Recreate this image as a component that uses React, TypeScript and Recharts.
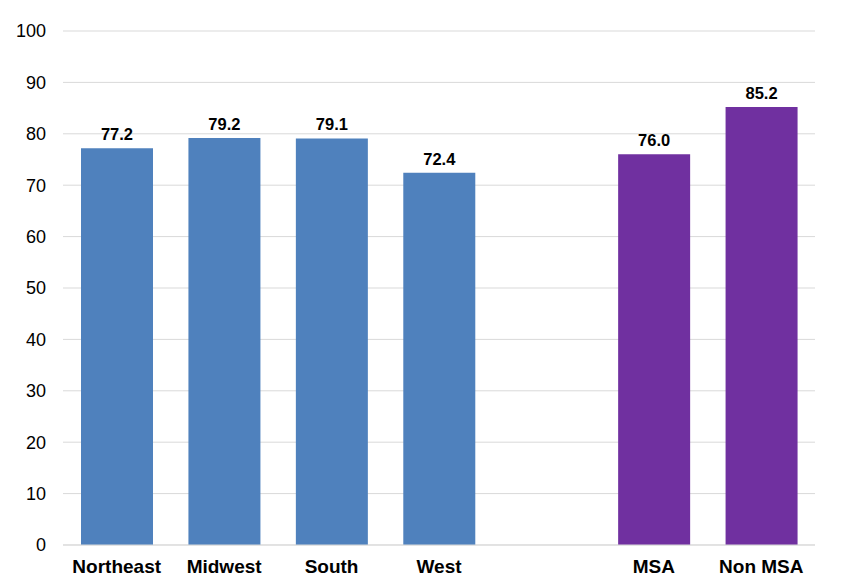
import { Bar, BarChart, CartesianGrid, Cell, LabelList, XAxis, YAxis } from 'recharts';

const categories = ['Northeast', 'Midwest', 'South', 'West', '', 'MSA', 'Non MSA'];
const values: (number | null)[] = [77.2, 79.2, 79.1, 72.4, null, 76.0, 85.2];
const barColors = ['#4F81BD', '#4F81BD', '#4F81BD', '#4F81BD', '#4F81BD', '#7030A0', '#7030A0'];
const yTicks = [0, 10, 20, 30, 40, 50, 60, 70, 80, 90, 100];

const data = categories.map((name, i) => ({ name, value: values[i] }));

export default function App() {
  return (
    <div style={{ position: 'absolute', left: 0, top: 0, fontFamily: '"Liberation Sans", Arial, sans-serif' }}>
      <BarChart
        width={843}
        height={586}
        data={data}
        margin={{ top: 31, right: 28, left: 0, bottom: 0 }}
      >
        <CartesianGrid vertical={false} stroke="#d9d9d9" />
        <XAxis
          dataKey="name"
          height={41}
          tickLine={false}
          tickSize={0}
          tickMargin={15}
          axisLine={{ stroke: '#d9d9d9' }}
          interval={0}
          tick={{ fontSize: 19, fontWeight: 'bold', fill: '#000' }}
        />
        <YAxis
          width={63}
          domain={[0, 100]}
          ticks={yTicks}
          axisLine={false}
          tickLine={false}
          tickSize={0}
          tickMargin={17}
          tick={{ fontSize: 18, fill: '#000' }}
        />
        <Bar dataKey="value" barSize={72} isAnimationActive={false}>
          {data.map((d, i) => (
            <Cell key={d.name + i} fill={barColors[i]} />
          ))}
          <LabelList
            dataKey="value"
            position="top"
            offset={8}
            formatter={(v: any) => (v == null ? '' : Number(v).toFixed(1))}
            style={{ fontSize: 16.5, fontWeight: 'bold', fill: '#000' }}
          />
        </Bar>
      </BarChart>
    </div>
  );
}
